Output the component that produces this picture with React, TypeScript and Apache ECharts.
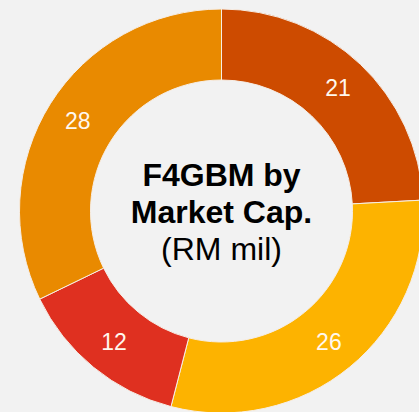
import React, { useEffect, useRef } from "react";
import * as echarts from "echarts";

const categories = ["A", "B", "C", "D"];
const values = [21, 26, 12, 28];
const colors = ["#CD4B00", "#FDB300", "#DF3020", "#E98A00"];
const titleLines = ["F4GBM by", "Market Cap.", "(RM mil)"];

export default function App() {
  const ref = useRef<HTMLDivElement>(null);
  useEffect(() => {
    if (!ref.current) return;
    const chart = echarts.init(ref.current, undefined, { renderer: "svg" });
    const cx = 221.5;
    const cy = 211;
    const mk = (text: string, y: number, bold: boolean) => ({
      type: "text",
      x: cx,
      y,
      style: {
        text,
        fill: "#000",
        font: (bold ? "bold " : "") + "32px 'Liberation Sans', Arial, sans-serif",
        textAlign: "center",
        textVerticalAlign: "middle",
      },
    });
    chart.setOption({
      animation: false,
      backgroundColor: "#F2F2F2",
      graphic: [
        mk(titleLines[0], 175, true),
        mk(titleLines[1], 212, true),
        mk(titleLines[2], 249, false),
      ],
      series: [
        {
          type: "pie",
          center: [cx, cy],
          radius: [131, 202],
          startAngle: 90,
          clockwise: true,
          avoidLabelOverlap: false,
          itemStyle: { borderColor: "#F6EEE6", borderWidth: 1 },
          label: {
            show: true,
            position: "inside",
            formatter: "{c}",
            color: "#FFF8EE",
            fontSize: 23,
            fontFamily: "'Liberation Sans', Arial, sans-serif",
          },
          labelLine: { show: false },
          emphasis: { disabled: true },
          data: categories.map((c, i) => ({
            name: c,
            value: values[i],
            itemStyle: { color: colors[i] },
          })),
        },
      ],
    });
    return () => chart.dispose();
  }, []);
  return (
    <div
      ref={ref}
      style={{ position: "fixed", left: 0, top: 0, width: 419, height: 412 }}
    />
  );
}
